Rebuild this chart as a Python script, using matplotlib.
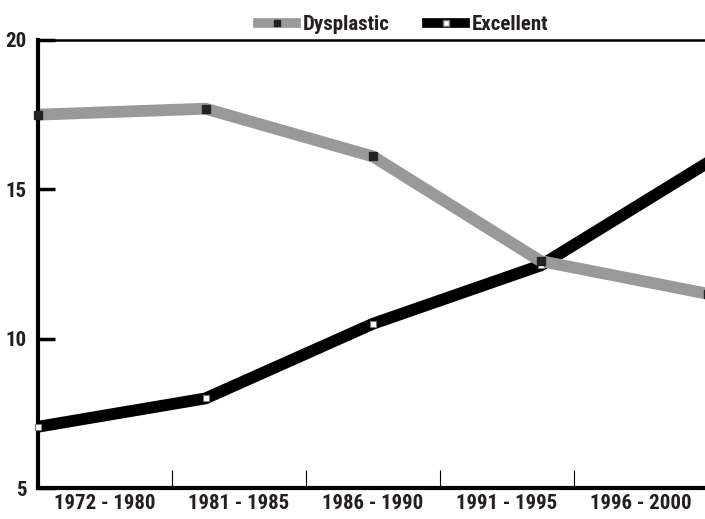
import matplotlib
matplotlib.use("Agg")
import matplotlib.pyplot as plt
from matplotlib import font_manager
from matplotlib.lines import Line2D
from matplotlib.ticker import FixedLocator, NullFormatter, FixedFormatter

categories = ["1972 - 1980", "1981 - 1985", "1986 - 1990", "1991 - 1995", "1996 - 2000"]
dysplastic = [17.5, 17.7, 16.1, 12.6, 11.5]
excellent = [7.05, 8.0, 10.5, 12.45, 15.9]
yticks = [5, 10, 15, 20]

# choose a condensed bold face if one is installed
fonts = font_manager.fontManager.ttflist
names = {f.name for f in fonts}
family, stretch, fsize = 'Liberation Sans', 'normal', 12.5
for cand in ['Liberation Sans Narrow', 'DejaVu Sans Condensed', 'Roboto Condensed',
             'Open Sans Condensed', 'Noto Sans Condensed']:
    if cand in names:
        family, fsize = cand, 15
        break
else:
    for f in fonts:
        if f.name in ('DejaVu Sans', 'Noto Sans', 'Open Sans', 'Roboto') and \
                f.stretch in ('condensed', 'semi-condensed', 600) and f.weight in ('bold', 700):
            family, stretch, fsize = f.name, f.stretch, 14.5
            break

plt.rcParams['font.family'] = [family, 'DejaVu Sans']
plt.rcParams['font.stretch'] = stretch
txt = '#231f20'
gray = '#999999'

fig = plt.figure(figsize=(7.05, 5.19), dpi=100)
ax = fig.add_axes([38/705, 31/519, 670/705, 448/519])

n = len(categories)
xs = list(range(n))
ax.set_xlim(0, n - 1)
ax.set_ylim(5, 20)

lw = 8.5
ax.plot(xs, excellent, color='black', lw=lw, solid_joinstyle='miter', zorder=3)
ax.plot(xs, dysplastic, color=gray, lw=lw, solid_joinstyle='miter', zorder=4)
ax.plot(xs, excellent, ls='none', marker='s', markersize=5, markerfacecolor='white',
        markeredgecolor='#777777', markeredgewidth=0.8, zorder=6, clip_on=False)
ax.plot(xs, dysplastic, ls='none', marker='s', markersize=5.5, markerfacecolor='#222222',
        markeredgecolor='#222222', zorder=6, clip_on=False)

# category bins on x axis
w = (n - 1) / n
bounds = [w * k for k in range(1, n)]
centers = [w * (k + 0.5) for k in range(n)]
ax.xaxis.set_major_locator(FixedLocator(bounds))
ax.xaxis.set_major_formatter(NullFormatter())
ax.xaxis.set_minor_locator(FixedLocator(centers))
ax.xaxis.set_minor_formatter(FixedFormatter(categories))
ax.tick_params(axis='x', which='major', direction='in', length=13, width=0.8, color='black')
ax.tick_params(axis='x', which='minor', length=0, pad=4, labelsize=fsize, labelcolor=txt)
for lab in ax.get_xticklabels(minor=True):
    lab.set_fontweight('bold')

ax.set_yticks(yticks)
ax.set_yticklabels([str(v) for v in yticks])
ax.tick_params(axis='y', direction='in', length=12, width=2.5, pad=8, labelsize=fsize, labelcolor=txt)
for lab in ax.get_yticklabels():
    lab.set_fontweight('bold')

ax.spines['right'].set_visible(False)
ax.spines['left'].set_linewidth(3)
ax.spines['bottom'].set_linewidth(3)
ax.spines['top'].set_linewidth(1.8)
for s in ax.spines.values():
    s.set_zorder(5)

handles = [
    Line2D([], [], color=gray, lw=7, marker='s', markersize=5, markerfacecolor='#222222',
           markeredgecolor='#222222'),
    Line2D([], [], color='black', lw=7, marker='s', markersize=5, markerfacecolor='white',
           markeredgecolor='#777777'),
]
leg = fig.legend(handles, ['Dysplastic', 'Excellent'], loc='upper center',
                 bbox_to_anchor=(0.572, 1.007), ncol=2, frameon=False, numpoints=1,
                 handlelength=1.8, handletextpad=0.35, columnspacing=1.8,
                 prop={'weight': 'bold', 'size': fsize})
for t in leg.get_texts():
    t.set_color(txt)

fig.savefig('out.png', dpi=100)
